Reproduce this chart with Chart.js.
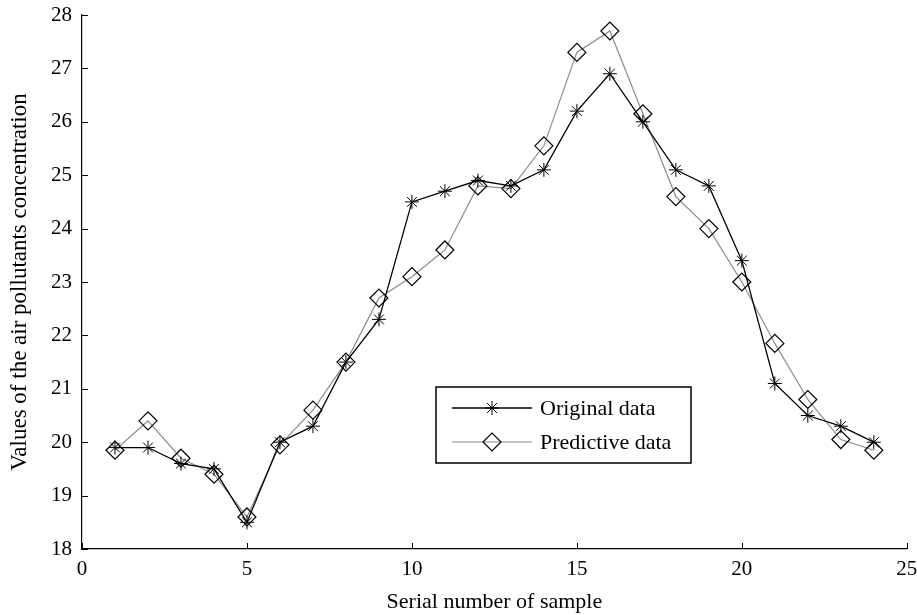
<!DOCTYPE html>
<html>
<head>
<meta charset="utf-8">
<title>Air pollutants concentration</title>
<script src="https://cdn.jsdelivr.net/npm/chart.js@4/dist/chart.umd.min.js"></script>
<style>
  html, body { margin: 0; padding: 0; background: #fff; }
  #wrap { width: 917px; height: 615px; }
</style>
</head>
<body>
<div id="wrap"><canvas id="pollutantChart" width="917" height="615"></canvas></div>
<script>
// sample numbers 1..24
const samples = [1, 2, 3, 4, 5, 6, 7, 8, 9, 10, 11, 12, 13, 14, 15, 16, 17, 18, 19, 20, 21, 22, 23, 24];
const originalData = [19.9, 19.9, 19.6, 19.5, 18.5, 20.0, 20.3, 21.5, 22.3, 24.5, 24.7, 24.9,
  24.8, 25.1, 26.2, 26.9, 26.0, 25.1, 24.8, 23.4, 21.1, 20.5, 20.3, 20.0];
const predictiveData = [19.85, 20.4, 19.7, 19.4, 18.6, 19.95, 20.6, 21.5, 22.7, 23.1, 23.6, 24.8,
  24.75, 25.55, 27.3, 27.7, 26.15, 24.6, 24.0, 23.0, 21.85, 20.8, 20.05, 19.85];
const xTicks = [0, 5, 10, 15, 20, 25];
const yTicks = [18, 19, 20, 21, 22, 23, 24, 25, 26, 27, 28];
const seriesLabels = ["Original data", "Predictive data"];

const FONT = "'Liberation Serif', 'Times New Roman', serif";

const toPoints = (ys) => samples.map((x, i) => ({ x, y: ys[i] }));

// ticks pointing into the plot, like the MATLAB figure
const inwardTicks = {
  id: "inwardTicks",
  afterDraw(chart) {
    const { ctx, chartArea, scales } = chart;
    ctx.save();
    ctx.strokeStyle = "#000";
    ctx.lineWidth = 1;
    ctx.beginPath();
    yTicks.forEach((v) => {
      const y = Math.round(scales.y.getPixelForValue(v)) + 0.5;
      ctx.moveTo(chartArea.left, y);
      ctx.lineTo(chartArea.left + 6, y);
    });
    xTicks.forEach((v) => {
      const x = Math.round(scales.x.getPixelForValue(v)) + 0.5;
      ctx.moveTo(x, chartArea.bottom);
      ctx.lineTo(x, chartArea.bottom - 6);
    });
    ctx.stroke();
    ctx.restore();
  },
};

// boxed legend inside the plot
const boxLegend = {
  id: "boxLegend",
  afterDraw(chart) {
    const { ctx } = chart;
    const box = { left: 436, top: 387, right: 691, bottom: 463 };
    const rows = [408, 442];
    ctx.save();
    ctx.fillStyle = "#fff";
    ctx.fillRect(box.left, box.top, box.right - box.left, box.bottom - box.top);
    ctx.strokeStyle = "#000";
    ctx.lineWidth = 1.5;
    ctx.strokeRect(box.left, box.top, box.right - box.left, box.bottom - box.top);

    chart.data.datasets.forEach((ds, i) => {
      const y = rows[i];
      ctx.strokeStyle = ds.borderColor;
      ctx.lineWidth = ds.borderWidth;
      ctx.beginPath();
      ctx.moveTo(452, y);
      ctx.lineTo(532, y);
      ctx.stroke();

      const opts = {
        pointStyle: ds.pointStyle,
        radius: ds.pointRadius,
        borderWidth: ds.pointBorderWidth,
        rotation: 0,
      };
      ctx.strokeStyle = ds.pointBorderColor;
      ctx.fillStyle = ds.pointBackgroundColor;
      ctx.lineWidth = ds.pointBorderWidth;
      if (Chart.helpers && Chart.helpers.drawPoint) {
        Chart.helpers.drawPoint(ctx, opts, 492, y);
      }

      ctx.fillStyle = "#000";
      ctx.font = "22px " + FONT;
      ctx.textBaseline = "middle";
      ctx.textAlign = "left";
      ctx.fillText(ds.label, 540, y + 1);
    });
    ctx.restore();
  },
};

new Chart(document.getElementById("pollutantChart"), {
  type: "line",
  data: {
    datasets: [
      {
        label: seriesLabels[0],
        data: toPoints(originalData),
        borderColor: "#000",
        borderWidth: 1.3,
        pointStyle: "star",
        pointRadius: 7,
        pointHoverRadius: 7,
        pointBorderColor: "#000",
        pointBackgroundColor: "rgba(0,0,0,0)",
        pointBorderWidth: 1,
        tension: 0,
      },
      {
        label: seriesLabels[1],
        data: toPoints(predictiveData),
        borderColor: "#8c8c8c",
        borderWidth: 1.2,
        pointStyle: "rectRot",
        pointRadius: 9,
        pointHoverRadius: 9,
        pointBorderColor: "#000",
        pointBackgroundColor: "rgba(0,0,0,0)",
        pointBorderWidth: 1.2,
        tension: 0,
      },
    ],
  },
  options: {
    responsive: false,
    animation: false,
    devicePixelRatio: 1,
    layout: { padding: { top: 15, right: 10, left: 0, bottom: 0 } },
    plugins: {
      legend: { display: false },
      tooltip: { enabled: false },
    },
    scales: {
      x: {
        type: "linear",
        min: 0,
        max: 25,
        afterBuildTicks: (scale) => {
          scale.ticks = xTicks.map((v) => ({ value: v }));
        },
        afterFit: (scale) => {
          scale.height = 66;
          scale.paddingLeft = 0;
          scale.paddingRight = 0;
        },
        grid: { display: false, drawTicks: false },
        border: { display: true, color: "#000", width: 1.2 },
        ticks: {
          color: "#000",
          padding: 8,
          maxRotation: 0,
          font: { family: FONT, size: 21 },
        },
        title: {
          display: true,
          text: "Serial number of sample",
          color: "#000",
          padding: { top: 0, bottom: 0 },
          font: { family: FONT, size: 22 },
        },
      },
      y: {
        type: "linear",
        min: 18,
        max: 28,
        afterBuildTicks: (scale) => {
          scale.ticks = yTicks.map((v) => ({ value: v }));
        },
        afterFit: (scale) => {
          scale.width = 82;
          scale.paddingTop = 0;
          scale.paddingBottom = 0;
        },
        grid: { display: false, drawTicks: false },
        border: { display: true, color: "#000", width: 1.2 },
        ticks: {
          color: "#000",
          padding: 10,
          font: { family: FONT, size: 21 },
        },
        title: {
          display: true,
          text: "Values of the air pollutants concentration",
          color: "#000",
          padding: { top: 6, bottom: 0 },
          font: { family: FONT, size: 23 },
        },
      },
    },
  },
  plugins: [inwardTicks, boxLegend],
});
</script>
</body>
</html>
